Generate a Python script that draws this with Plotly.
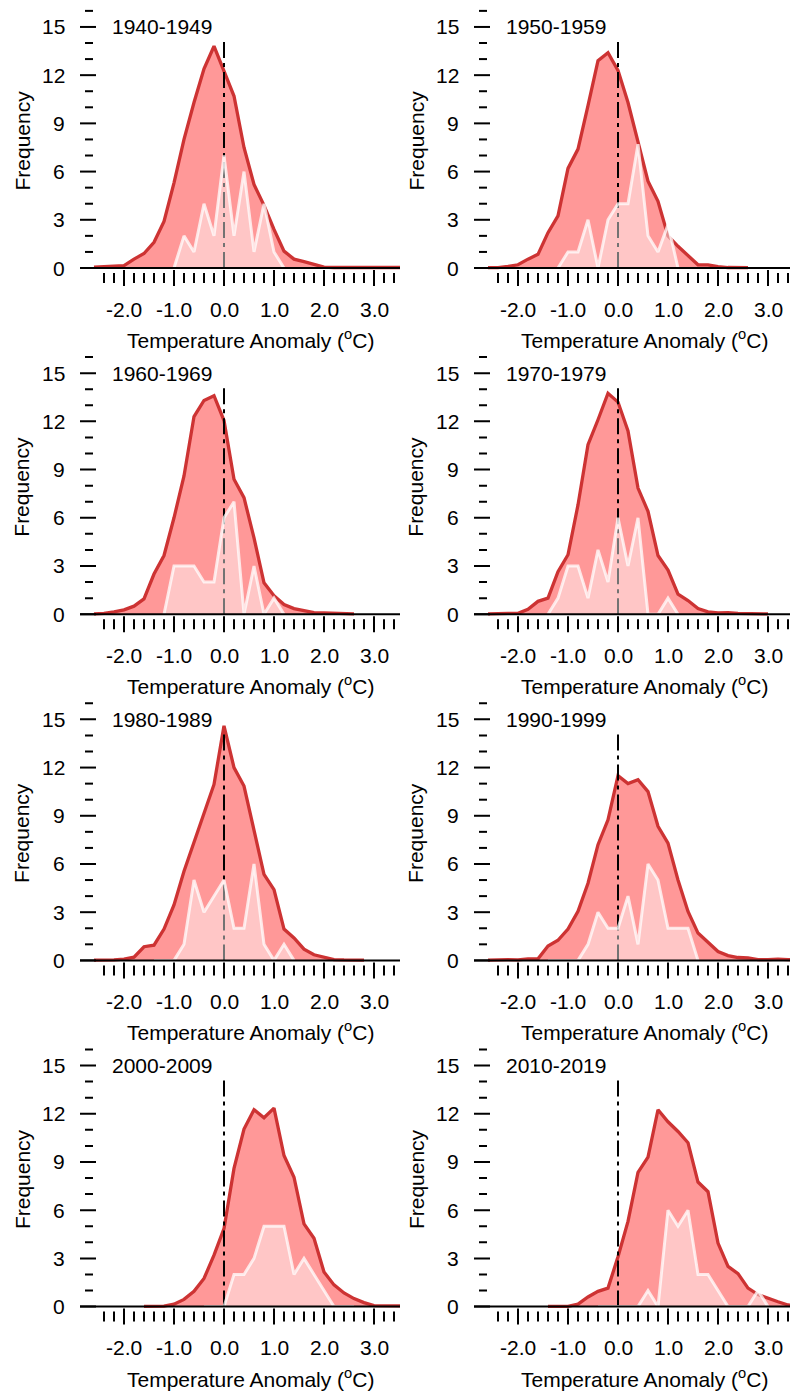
import plotly.graph_objects as go

# ---------------- data ----------------
TEMP_BINS = [-2.6, -2.4, -2.2, -2.0, -1.8, -1.6, -1.4, -1.2, -1.0, -0.8, -0.6, -0.4,
             -0.2, 0.0, 0.2, 0.4, 0.6, 0.8, 1.0, 1.2, 1.4, 1.6, 1.8, 2.0,
             2.2, 2.4, 2.6, 2.8, 3.0, 3.2, 3.4, 3.6]

DECADES = ["1940-1949", "1950-1959", "1960-1969", "1970-1979",
           "1980-1989", "1990-1999", "2000-2009", "2010-2019"]

N = None
RED_1940 = [0.05, 0.1, 0.15, 0.15, 0.55, 0.9, 1.6, 2.9, 5.3, 8.0, 10.3, 12.4,
            13.8, 12.2, 10.7, 7.5, 5.2, 3.9, 2.4, 1.05, 0.55, 0.4, 0.2, 0.05,
            0.03, 0.05, 0.03, 0.03, 0.05, 0.03, 0.03, 0.03]
RED_1950 = [0.02, 0.02, 0.1, 0.2, 0.55, 0.85, 2.2, 3.25, 6.2, 7.4, 10.1, 12.9,
            13.4, 12.3, 10.3, 7.9, 5.4, 4.15, 2.0, 1.35, 0.75, 0.2, 0.2, 0.08,
            0.03, 0.02, 0.02, N, N, N, N, N]
RED_1960 = [0.02, 0.05, 0.15, 0.27, 0.5, 0.95, 2.5, 3.65, 6.0, 8.6, 12.3, 13.3,
            13.6, 12.05, 8.4, 7.25, 4.75, 1.95, 1.15, 0.6, 0.35, 0.25, 0.1, 0.08,
            0.05, 0.03, 0.02, N, N, N, N, N]
RED_1970 = [0.02, 0.05, 0.05, 0.05, 0.3, 0.8, 1.0, 2.65, 3.7, 6.8, 10.55, 12.1,
            13.75, 13.2, 11.4, 7.85, 6.4, 3.65, 2.75, 1.25, 0.85, 0.35, 0.15, 0.08,
            0.1, 0.05, 0.03, 0.02, 0.02, N, N, N]
RED_1980 = [0.02, 0.02, 0.03, 0.08, 0.2, 0.85, 0.95, 1.95, 3.45, 5.55, 7.3, 9.2,
            10.95, 14.6, 12.0, 10.85, 8.15, 5.35, 4.4, 1.95, 1.4, 0.7, 0.35, 0.18,
            0.05, 0.03, 0.02, 0.02, N, N, N, N]
RED_1990 = [0.02, 0.05, 0.05, 0.03, 0.1, 0.1, 0.9, 1.25, 1.95, 3.05, 4.8, 7.2,
            8.75, 11.5, 11.0, 11.25, 10.5, 8.35, 7.3, 5.0, 3.05, 1.7, 1.15, 0.55,
            0.3, 0.18, 0.15, 0.05, 0.05, 0.08, 0.05, 0.05]
RED_2000 = [N, N, N, N, N, 0.02, 0.02, 0.03, 0.15, 0.45, 0.95, 1.75,
            3.2, 4.85, 8.6, 11.05, 12.25, 11.75, 12.35, 9.4, 8.05, 5.15, 4.25, 2.15,
            1.35, 0.85, 0.5, 0.25, 0.06, 0.05, 0.05, 0.05]
RED_2010 = [N, N, N, N, N, N, 0.02, 0.02, 0.02, 0.15, 0.6, 0.95,
            1.15, 3.1, 5.3, 8.35, 9.3, 12.25, 11.5, 10.9, 10.2, 7.75, 7.15, 3.95,
            2.5, 2.05, 1.15, 0.75, 0.5, 0.3, 0.1, 0.02]

WHITE_1940 = [N, N, N, N, N, N, N, N, 0, 2, 1, 4,
              2, 7, 2, 6, 1, 4, 1, 0, N, N, N, N,
              N, N, N, N, N, N, N, N]
WHITE_1950 = [N, N, N, N, N, N, N, 0, 1, 1, 3, 0,
              3, 4, 4, 7.7, 2, 1, 2.7, 0, N, N, N, N,
              N, N, N, N, N, N, N, N]
WHITE_1960 = [N, N, N, N, N, N, N, 0, 3, 3, 3, 2,
              2, 6, 7, 0, 3, 0, 1, 0, N, N, N, N,
              N, N, N, N, N, N, N, N]
WHITE_1970 = [N, N, N, N, N, N, 0, 1, 3, 3, 1, 4,
              2, 6, 3, 6, 0, 0, 1, 0, N, N, N, N,
              N, N, N, N, N, N, N, N]
WHITE_1980 = [N, N, N, N, N, N, 0, 0, 0, 1, 5, 3,
              4, 5, 2, 2, 6, 1, 0, 1, 0, N, N, N,
              N, N, N, N, N, N, N, N]
WHITE_1990 = [N, N, N, N, N, N, 0, 0, 0, 0, 1, 3,
              2, 2, 4, 1, 6, 5, 2, 2, 2, 0, N, N,
              N, N, N, N, N, N, N, N]
WHITE_2000 = [N, N, N, N, N, N, N, N, N, N, N, 0,
              0, 0, 2, 2, 3, 5, 5, 5, 2, 3, 2, 1,
              0, 0, 0, N, N, N, N, N]
WHITE_2010 = [N, N, N, N, N, N, N, N, N, N, N, 0,
              0, 0, 0, 0, 1, 0, 6, 5, 6, 2, 2, 1,
              0, 0, 0, 1, 0, N, N, N]

RED_SERIES = [RED_1940, RED_1950, RED_1960, RED_1970, RED_1980, RED_1990, RED_2000, RED_2010]
WHITE_SERIES = [WHITE_1940, WHITE_1950, WHITE_1960, WHITE_1970,
                WHITE_1980, WHITE_1990, WHITE_2000, WHITE_2010]

Y_MAJOR = [0, 3, 6, 9, 12, 15]
Y_MAJOR_LABELS = ["0", "3", "6", "9", "12", "15"]
Y_MINOR = [1, 2, 4, 5, 7, 8, 10, 11, 13, 14, 16]
X_MAJOR = [-2.0, -1.0, 0.0, 1.0, 2.0, 3.0]
X_MAJOR_LABELS = ["-2.0", "-1.0", "0.0", "1.0", "2.0", "3.0"]
X_MINOR = [-2.4, -2.2, -1.8, -1.6, -1.4, -1.2, -0.8, -0.6, -0.4, -0.2,
           0.2, 0.4, 0.6, 0.8, 1.2, 1.4, 1.6, 1.8, 2.2, 2.4, 2.6, 2.8, 3.2, 3.4]
ZERO_LINE_TOP = 14.2

X_TITLE = "Temperature Anomaly (<sup>o</sup>C)"
Y_TITLE = "Frequency"

# ---------------- layout / style ----------------
W, H = 790, 1392
PX_X = 50.0      # pixels per degree
PX_Y = 16.07     # pixels per frequency unit
COL_ZERO = [224.0, 618.0]
ROW_ZERO = [268.0, 614.2, 960.4, 1306.6]
COL_BOUNDS = [(4.0, 400.0), (398.0, 790.0)]
ABOVE, BELOW = 268.0, 82.0

# pixel offsets relative to the x=0 position of a panel (horizontal) / y=0 (vertical)
OFF_AXIS_LEFT = -144
OFF_YTICK_MAJ = (-144, -128)
OFF_YTICK_MIN = (-139, -131)
OFF_YLABEL = -157
OFF_PANEL_LABEL = -114
OFF_YTITLE = -202
OFF_XTITLE = 26
OFF_XTICK_MAJ = (2, 18)
OFF_XTICK_MIN = (5, 15)
OFF_XLABEL = 41
OFF_XTITLE_Y = 71
OFF_YTITLE_Y = 127.5

RED_FILL = "#FF9898"
RED_LINE = "#CD3333"
WHITE_FILL = "rgba(255,255,255,0.45)"
WHITE_LINE = "rgba(255,255,255,0.75)"
FONT = dict(family="Liberation Sans, Arial, sans-serif", size=21, color="black")

fig = go.Figure()
layout = dict(width=W, height=H, margin=dict(l=0, r=0, t=0, b=0),
              paper_bgcolor="white", plot_bgcolor="rgba(0,0,0,0)",
              showlegend=False, annotations=[])


def strip(xs, ys):
    px, py = [], []
    for a, b in zip(xs, ys):
        if b is not None:
            px.append(a)
            py.append(b)
    return px, py


for i, label in enumerate(DECADES):
    r, c = divmod(i, 2)
    n = i + 1
    xa = "x" if n == 1 else f"x{n}"
    ya = "y" if n == 1 else f"y{n}"
    X0, Y0 = COL_ZERO[c], ROW_ZERO[r]
    L, R = COL_BOUNDS[c]
    T, B = Y0 - ABOVE, Y0 + BELOW
    xr = [(L - X0) / PX_X, (R - X0) / PX_X]
    yr = [(Y0 - B) / PX_Y, (Y0 - T) / PX_Y]
    axcommon = dict(visible=False, fixedrange=True, showgrid=False, zeroline=False)
    layout["xaxis" if n == 1 else f"xaxis{n}"] = dict(
        domain=[L / W, R / W], range=xr, anchor=ya, **axcommon)
    layout["yaxis" if n == 1 else f"yaxis{n}"] = dict(
        domain=[max(0.0, 1 - B / H), min(1.0, 1 - T / H)], range=yr, anchor=xa, **axcommon)

    rx, ry = strip(TEMP_BINS, RED_SERIES[i])
    wx, wy = strip(TEMP_BINS, WHITE_SERIES[i])
    kw = dict(xaxis=xa, yaxis=ya, hoverinfo="skip", mode="lines")

    fig.add_trace(go.Scatter(x=rx, y=ry, fill="tozeroy", fillcolor=RED_FILL,
                             line=dict(width=0, color=RED_FILL), **kw))
    fig.add_trace(go.Scatter(x=rx, y=ry, line=dict(width=3.3, color=RED_LINE), **kw))
    fig.add_trace(go.Scatter(x=[0, 0], y=[0, ZERO_LINE_TOP],
                             line=dict(width=2, color="black", dash="16px,5px,4px,5px"), **kw))
    fig.add_trace(go.Scatter(x=wx, y=wy, fill="tozeroy", fillcolor=WHITE_FILL,
                             line=dict(width=0, color="rgba(0,0,0,0)"), **kw))
    fig.add_trace(go.Scatter(x=wx, y=wy, line=dict(width=3, color=WHITE_LINE), **kw))

    # axis line at zero
    fig.add_trace(go.Scatter(x=[OFF_AXIS_LEFT / PX_X, xr[1]], y=[0, 0],
                             line=dict(width=2, color="black"), **kw))
    # ticks
    mx, my = [], []
    for v in Y_MAJOR:
        mx += [OFF_YTICK_MAJ[0] / PX_X, OFF_YTICK_MAJ[1] / PX_X, None]
        my += [v, v, None]
    for v in Y_MINOR:
        mx += [OFF_YTICK_MIN[0] / PX_X, OFF_YTICK_MIN[1] / PX_X, None]
        my += [v, v, None]
    for v in X_MAJOR:
        mx += [v, v, None]
        my += [-OFF_XTICK_MAJ[0] / PX_Y, -OFF_XTICK_MAJ[1] / PX_Y, None]
    for v in X_MINOR:
        mx += [v, v, None]
        my += [-OFF_XTICK_MIN[0] / PX_Y, -OFF_XTICK_MIN[1] / PX_Y, None]
    fig.add_trace(go.Scatter(x=mx, y=my, line=dict(width=2, color="black"), **kw))

    ann = layout["annotations"]
    for v, t in zip(Y_MAJOR, Y_MAJOR_LABELS):
        ann.append(dict(xref=xa, yref=ya, x=OFF_YLABEL / PX_X, y=v, text=t,
                        showarrow=False, xanchor="right", yanchor="middle", font=FONT))
    for v, t in zip(X_MAJOR, X_MAJOR_LABELS):
        ann.append(dict(xref=xa, yref=ya, x=v, y=-OFF_XLABEL / PX_Y, text=t,
                        showarrow=False, xanchor="center", yanchor="middle", font=FONT))
    ann.append(dict(xref=xa, yref=ya, x=OFF_PANEL_LABEL / PX_X, y=15, text=label,
                    showarrow=False, xanchor="left", yanchor="middle", font=FONT))
    ann.append(dict(xref=xa, yref=ya, x=OFF_YTITLE / PX_X, y=OFF_YTITLE_Y / PX_Y, text=Y_TITLE,
                    textangle=-90, showarrow=False, xanchor="center", yanchor="middle", font=FONT))
    ann.append(dict(xref=xa, yref=ya, x=OFF_XTITLE / PX_X, y=-OFF_XTITLE_Y / PX_Y, text=X_TITLE,
                    showarrow=False, xanchor="center", yanchor="middle", font=FONT))

fig.update_layout(**layout)
fig.write_html("out.html")
